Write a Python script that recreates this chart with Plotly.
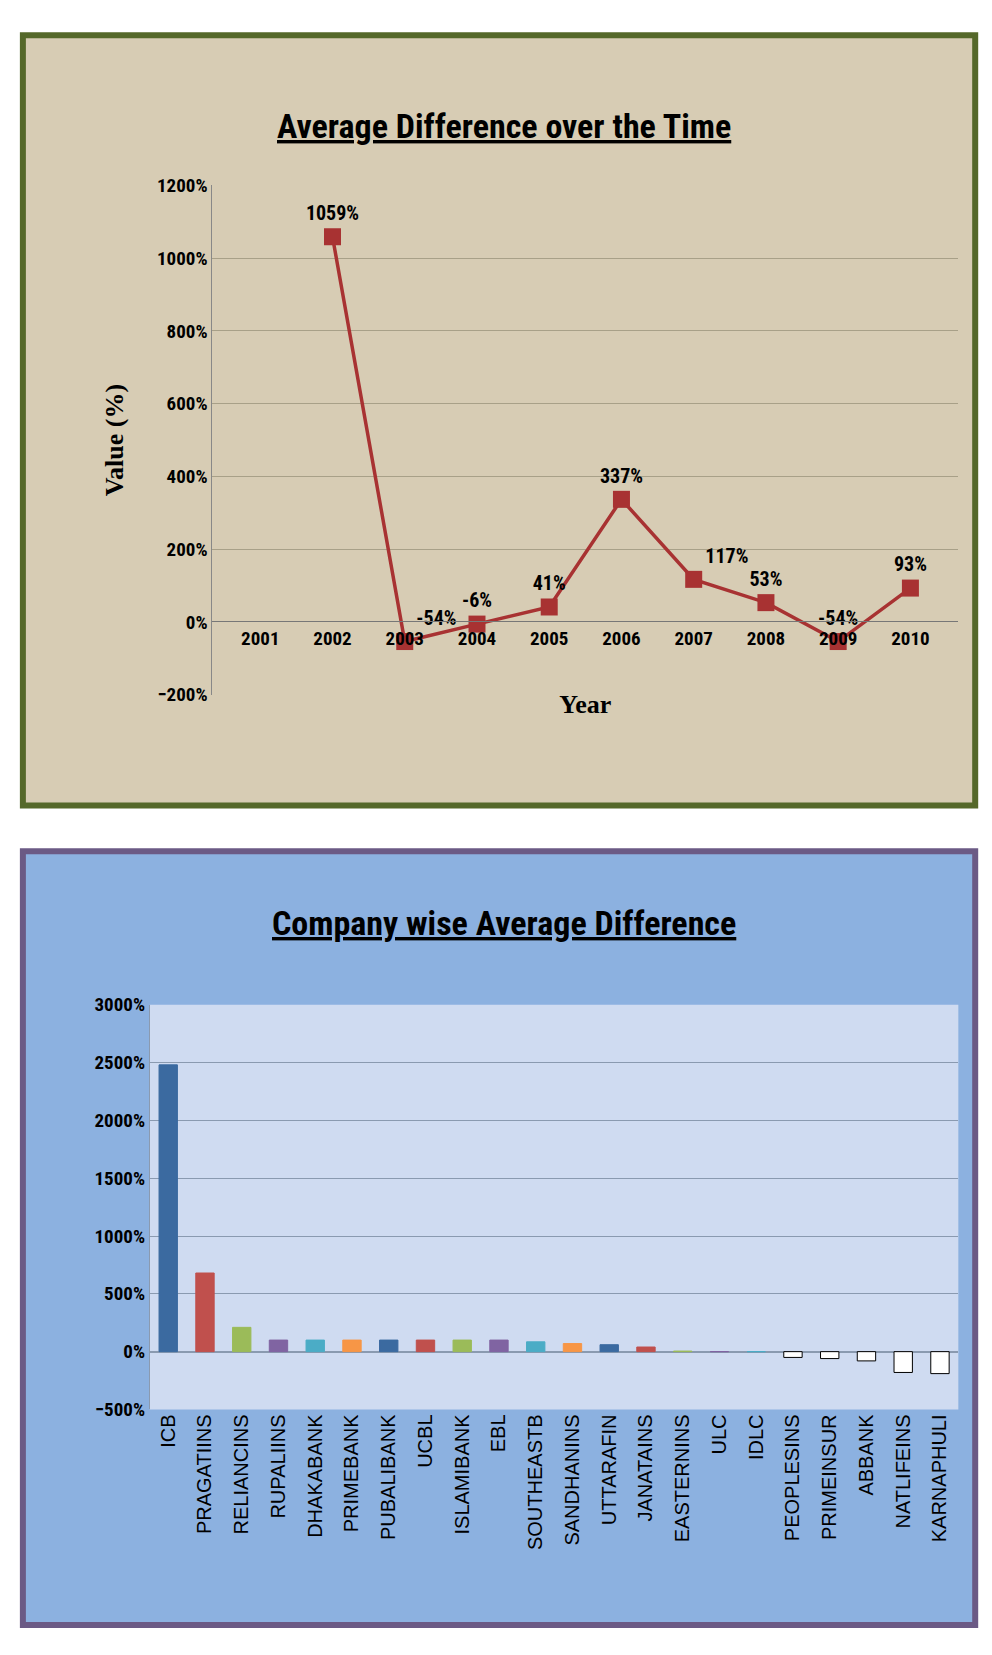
import plotly.graph_objects as go

years = ["2001", "2002", "2003", "2004", "2005", "2006", "2007", "2008", "2009", "2010"]
avg_diff = [None, 1059, -54, -6, 41, 337, 117, 53, -54, 93]
avg_labels = ["", "1059%", "-54%", "-6%", "41%", "337%", "117%", "53%", "-54%", "93%"]
label_pos = ["top center", "top center", "top right", "top center", "top center",
             "top center", "top right", "top center", "top center", "top center"]

companies = ["ICB", "PRAGATIINS", "RELIANCINS", "RUPALIINS", "DHAKABANK", "PRIMEBANK",
             "PUBALIBANK", "UCBL", "ISLAMIBANK", "EBL", "SOUTHEASTB", "SANDHANINS",
             "UTTARAFIN", "JANATAINS", "EASTERNINS", "ULC", "IDLC", "PEOPLESINS",
             "PRIMEINSUR", "ABBANK", "NATLIFEINS", "KARNAPHULI"]
company_diff = [2480, 680, 210, 100, 100, 100, 100, 100, 100, 100, 85, 70,
                60, 40, 5, 0, 0, -50, -60, -80, -180, -190]
palette = ["#3b6aa0", "#c0504d", "#9bbb59", "#8064a2", "#4bacc6", "#f79646"]

bar_colors = []
bar_lines = []
for i, v in enumerate(company_diff):
    if v < 0:
        bar_colors.append("white")
        bar_lines.append("black")
    else:
        c = palette[i % len(palette)]
        bar_colors.append(c)
        bar_lines.append(c)

fnt = "Liberation Sans Narrow, Roboto Condensed, Liberation Sans, sans-serif"

fig = go.Figure()

fig.add_trace(go.Scatter(
    x=years, y=avg_diff, text=["<b>%s</b>" % t for t in avg_labels], mode="lines+markers+text",
    textposition=label_pos, textfont=dict(size=20, color="black", family=fnt),
    line=dict(color="#a83232", width=3.5), marker=dict(symbol="square", size=17, color="#a83232"),
    xaxis="x", yaxis="y", cliponaxis=False, showlegend=False,
))

fig.add_trace(go.Bar(
    x=companies, y=company_diff, marker=dict(color=bar_colors, line=dict(color=bar_lines, width=1)),
    width=0.5, xaxis="x2", yaxis="y2", showlegend=False,
))

tick_font = dict(size=19, color="black", family=fnt, weight="bold")

fig.update_layout(
    width=992, height=1655,
    margin=dict(l=0, r=0, t=0, b=0),
    paper_bgcolor="white", plot_bgcolor="rgba(0,0,0,0)",
    xaxis=dict(domain=[0.206, 0.958], anchor="free", position=0.631, type="category",
               tickfont=tick_font, showgrid=False, showline=True, linecolor="#777",
               ticks="", title=dict(text="<b>Year</b>", font=dict(size=26, family="Liberation Serif, serif", color="black"), standoff=45)),
    yaxis=dict(domain=[0.586, 0.898], range=[-200, 1200], dtick=200, ticksuffix="%",
               tickfont=tick_font, showgrid=True, gridcolor="#a8a088", zeroline=False,
               showline=True, linecolor="#888",
               title=dict(text="<b>Value (%)</b>", font=dict(size=26, family="Liberation Serif, serif", color="black"), standoff=25)),
    xaxis2=dict(domain=[0.143, 0.958], anchor="y2", type="category", tickangle=-90,
                tickfont=dict(size=20, color="black", family="Liberation Sans, Arial, sans-serif"),
                showgrid=False, showline=False, ticks=""),
    yaxis2=dict(domain=[0.148, 0.396], anchor="x2", range=[-500, 3000], dtick=500, ticksuffix="%",
                tickfont=tick_font, showgrid=True, gridcolor="#8a9ab0", zeroline=True,
                zerolinecolor="#8a9ab0", showline=True, linecolor="#8a9ab0"),
    shapes=[
        dict(type="rect", xref="paper", yref="paper", x0=0.015, x1=0.975, y0=0.518, y1=0.99,
             fillcolor="#d7ccb4", line=dict(color="#55682a", width=6), layer="below"),
        dict(type="rect", xref="paper", yref="paper", x0=0.015, x1=0.975, y0=0.016, y1=0.49,
             fillcolor="#8cb1e0", line=dict(color="#6b5a85", width=6), layer="below"),
        dict(type="rect", xref="paper", yref="paper", x0=0.143, x1=0.958, y0=0.148, y1=0.396,
             fillcolor="#cfdbf1", line=dict(width=0), layer="below"),
    ],
    annotations=[
        dict(text="<b><u>Average Difference over the Time</u></b>", xref="paper", yref="paper", x=0.5, y=0.948,
             showarrow=False, font=dict(size=34, color="black", family=fnt)),
        dict(text="<b><u>Company wise Average Difference</u></b>", xref="paper", yref="paper", x=0.5, y=0.446,
             showarrow=False, font=dict(size=34, color="black", family=fnt)),
    ],
)

fig.write_html("out.html")
